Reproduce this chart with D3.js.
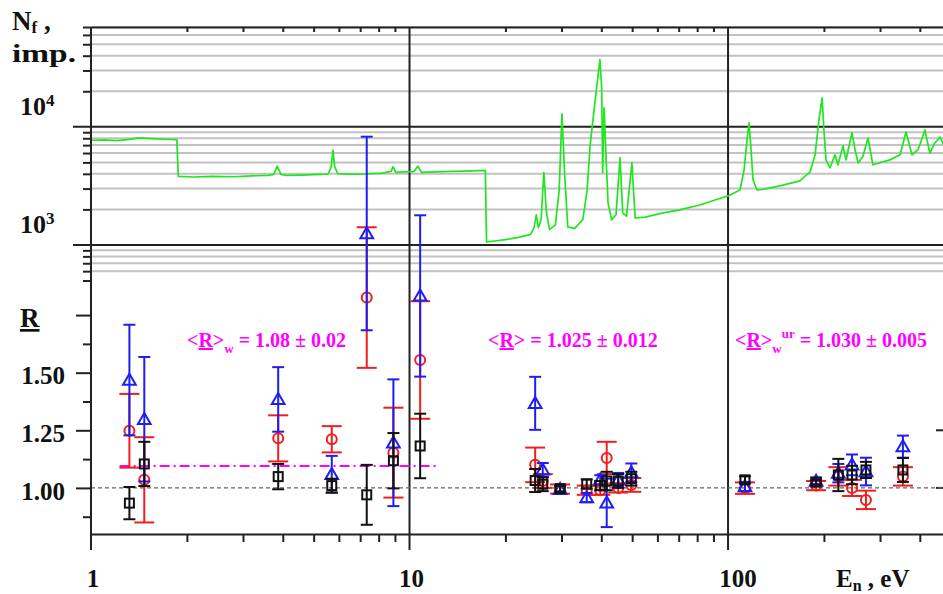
<!DOCTYPE html>
<html>
<head>
<meta charset="utf-8">
<script src="https://cdn.jsdelivr.net/npm/d3@7"></script>
<style>
  body { margin: 0; background: #fff; }
  svg { display: block; font-family: "Liberation Serif", "Times New Roman", serif; font-weight: bold; }
</style>
</head>
<body>
<div id="chart"></div>
<script>
// green trace: fission counts vs neutron energy
const nfEnergy = [
  1.00, 1.10, 1.20, 1.30, 1.42, 1.55, 1.70, 1.86, 1.88, 2.10, 2.40, 2.80, 3.20, 3.60,
  3.75, 3.84, 3.95, 4.10, 4.60, 5.20, 5.55, 5.68, 5.75, 5.82, 5.95, 6.50, 7.30, 8.20,
  8.75, 8.88, 9.05, 9.60, 10.3, 10.63, 10.9, 12.0, 13.5, 15.0, 16.5, 17.3, 17.45, 18.5,
  20.0, 22.0, 24.0, 24.6, 25.0, 25.4, 25.9, 26.4, 26.9, 27.5, 28.7, 29.5, 30.1, 30.7,
  31.4, 33.0, 35.0, 36.1, 36.9, 38.2, 39.6, 40.1, 40.4, 40.8, 41.4, 42.0, 43.1, 44.5,
  45.8, 46.7, 48.0, 49.9, 51.1, 55.0, 61.0, 70.5, 81.5, 91.0, 100, 109, 112.3, 114.7,
  116.4, 118.1, 119.8, 123.3, 130.7, 145.6, 168, 181, 187.6, 193, 197.4, 200, 203, 209,
  216.7, 221.4, 229.5, 234.6, 245, 250.4, 256, 265, 275, 285, 322, 347, 362, 378,
  395, 415, 430, 446, 463, 480
];
const nfCounts = [
  7700, 7750, 7650, 7800, 8050, 7950, 7850, 7800, 3800, 3760, 3800, 3780, 3850, 3880,
  3950, 4650, 3950, 3880, 3900, 3950, 3980, 4600, 6350, 4600, 4020, 3980, 4000, 4050,
  4200, 4600, 4120, 4150, 4170, 4650, 4120, 4160, 4200, 4220, 4260, 4280, 1060, 1080,
  1110, 1160, 1230, 1400, 1800, 1400, 1650, 4100, 1900, 1350, 1480, 2900, 12900, 3900,
  1420, 1380, 1640, 2900, 7000, 16000, 37000, 22000, 4100, 14500, 5600, 2270, 1630, 1800,
  5500, 1870, 1750, 4950, 1690, 1720, 1840, 1980, 2180, 2400, 2600, 2920, 4300, 7700,
  10800, 6400, 3550, 2920, 2980, 3160, 3490, 4160, 5800, 11500, 17600, 9400, 5250, 4500,
  5800, 4770, 6900, 5250, 8900, 6400, 4950, 5600, 8050, 4770, 5250, 5800, 9050, 5800,
  6400, 9400, 6000, 7300, 8200, 6650
];

// ratio points, one entry per resonance group
const groupEnergy = [1.32, 1.47, 3.87, 5.70, 7.34, 8.90, 10.8, 24.8, 26.2, 29.7, 36.0,
  39.7, 41.6, 45.2, 49.7, 113, 189, 222, 245, 271, 354];
const blackR = [0.934, 1.104, 1.049, 1.010, 0.970, 1.118, 1.182, 1.032, 1.016, 0.997, 1.017,
  1.010, 1.030, 1.030, 1.040, 1.035, 1.025, 1.056, 1.056, 1.078, 1.078];
const blackErr = [0.070, 0.096, 0.055, 0.030, 0.130, 0.120, 0.140, 0.050, 0.030, 0.012, 0.020,
  0.020, 0.040, 0.030, 0.030, 0.015, 0.010, 0.070, 0.040, 0.035, 0.052];
const redR = [1.248, 1.035, 1.215, 1.211, 1.826, 1.153, 1.555, 1.100, 1.030, 0.995, 0.990,
  0.990, 1.130, 1.000, 1.013, 0.999, 1.010, 1.050, 1.000, 0.948, 1.050];
const redErr = [0.160, 0.185, 0.100, 0.057, 0.305, 0.195, 0.255, 0.075, 0.030, 0.020, 0.020,
  0.020, 0.070, 0.020, 0.030, 0.025, 0.020, 0.040, 0.035, 0.040, 0.040];
const blueR = [1.468, 1.298, 1.384, 1.059, 2.104, 1.196, 1.833, 1.367, 1.078, 0.994, 0.958,
  1.035, 0.935, 1.035, 1.066, 1.006, 1.030, 1.064, 1.100, 1.071, 1.179];
const blueErr = [0.240, 0.270, 0.140, 0.080, 0.420, 0.275, 0.350, 0.115, 0.030, 0.015, 0.020,
  0.020, 0.105, 0.030, 0.040, 0.020, 0.015, 0.040, 0.045, 0.060, 0.048];

// weighted mean line for the low-energy region
const meanLineE = [1.23, 12.2];
const meanLineR = 1.095;

// ticks
const eMajorTicks = [1, 10, 100];
const eTickLabels = ["1", "10", "100"];
const eMinorTicks = [2, 3, 4, 5, 6, 7, 8, 9, 20, 30, 40, 50, 60, 70, 80, 90, 200, 300, 400];
const rMajorTicks = [1.00, 1.25, 1.50, 1.75];
const rTickLabels = ["1.00", "1.25", "1.50", ""];
const rMinorTicks = [0.875, 1.125, 1.375, 1.625];
const nfMajorTicks = [1e3, 1e4];
const nfTickExp = ["3", "4"];
const nfMinorTicks = [500, 600, 700, 800, 900, 2000, 3000, 4000, 5000, 6000, 7000, 8000, 9000,
  20000, 30000, 40000, 50000, 60000, 70000];

const width = 943, height = 594;
const plotLeft = 91, plotRight = 943, plotTop = 27, plotBottom = 534;

const svg = d3.select("#chart").append("svg")
  .attr("width", width).attr("height", height);

const x = d3.scaleLog().domain([1, 473]).range([plotLeft, plotRight]);
const yN = d3.scaleLog().domain([458, 70000]).range([285, plotTop]);
const yR = d3.scaleLinear().domain([0.8, 3.0]).range([plotBottom, plotTop]);

// gray grid of the counts panel
svg.append("g").selectAll("line")
  .data(nfMinorTicks.filter((v) => v >= 600))
  .join("line")
  .attr("x1", plotLeft).attr("x2", plotRight)
  .attr("y1", (d) => yN(d)).attr("y2", (d) => yN(d))
  .attr("stroke", "#c2c2c2").attr("stroke-width", 2);

svg.append("g").selectAll("line")
  .data(nfMajorTicks)
  .join("line")
  .attr("x1", 73).attr("x2", plotRight)
  .attr("y1", (d) => yN(d)).attr("y2", (d) => yN(d))
  .attr("stroke", "#222").attr("stroke-width", 2);

// minor ticks on the left for the counts scale
const nfAxis = svg.append("g")
  .attr("transform", `translate(${plotLeft},0)`)
  .call(d3.axisLeft(yN).tickValues(nfMinorTicks).tickSize(8).tickFormat(""));
nfAxis.select(".domain").remove();

// R axis
const rAxis = svg.append("g")
  .attr("transform", `translate(${plotLeft},0)`)
  .call(d3.axisLeft(yR).tickValues(rMajorTicks).tickSize(15).tickPadding(11)
    .tickFormat((d, i) => rTickLabels[i]));
rAxis.select(".domain").remove();
rAxis.selectAll("text")
  .attr("font-family", "Liberation Serif, serif").attr("font-size", 25)
  .attr("font-weight", "bold").attr("fill", "#111").attr("dy", "0.45em");

const rMinor = svg.append("g")
  .attr("transform", `translate(${plotLeft},0)`)
  .call(d3.axisLeft(yR).tickValues(rMinorTicks).tickSize(8).tickFormat(""));
rMinor.select(".domain").remove();

svg.append("g").selectAll("line")
  .data(rMajorTicks.slice(0, 2))
  .join("line")
  .attr("x1", plotRight - 7).attr("x2", plotRight)
  .attr("y1", (d) => yR(d)).attr("y2", (d) => yR(d))
  .attr("stroke", "#222").attr("stroke-width", 2);

svg.selectAll(".tick line").attr("stroke", "#222").attr("stroke-width", 2);

// energy axes, bottom and top
const bottomAxis = svg.append("g")
  .attr("transform", `translate(0,${plotBottom})`)
  .call(d3.axisBottom(x).tickValues(eMinorTicks).tickSize(8).tickSizeOuter(0).tickFormat(""));
bottomAxis.select(".domain").attr("stroke", "#222").attr("stroke-width", 2);
bottomAxis.selectAll(".tick line").attr("stroke", "#222").attr("stroke-width", 2);

const topAxis = svg.append("g")
  .attr("transform", `translate(0,${plotTop})`)
  .call(d3.axisBottom(x).tickValues(eMinorTicks).tickSize(5).tickSizeOuter(0).tickFormat(""));
topAxis.select(".domain").attr("stroke", "#222").attr("stroke-width", 2);
topAxis.selectAll(".tick line").attr("stroke", "#222").attr("stroke-width", 2);

// decade lines run through both panels
svg.append("g").selectAll("line")
  .data(eMajorTicks)
  .join("line")
  .attr("x1", (d) => x(d)).attr("x2", (d) => x(d))
  .attr("y1", plotTop).attr("y2", plotBottom + 16)
  .attr("stroke", "#222").attr("stroke-width", 2);

svg.append("g").selectAll("text")
  .data(eMajorTicks)
  .join("text")
  .attr("x", (d) => x(d) + (d === 100 ? 10 : 2))
  .attr("y", 587)
  .attr("text-anchor", "middle")
  .attr("font-size", 25)
  .attr("fill", "#111")
  .text((d, i) => eTickLabels[i]);

// reference line at R = 1
svg.append("line")
  .attr("x1", plotLeft).attr("x2", plotRight)
  .attr("y1", yR(1)).attr("y2", yR(1))
  .attr("stroke", "#666").attr("stroke-width", 1.2)
  .attr("stroke-dasharray", "4,3");

svg.append("line")
  .attr("x1", x(meanLineE[0])).attr("x2", x(meanLineE[1]))
  .attr("y1", yR(meanLineR)).attr("y2", yR(meanLineR))
  .attr("stroke", "#ff00ff").attr("stroke-width", 2)
  .attr("stroke-dasharray", "10,4,2,4");

// counts trace
const line = d3.line()
  .x((d) => x(d[0]))
  .y((d) => yN(d[1]));

svg.append("path")
  .datum(d3.zip(nfEnergy, nfCounts))
  .attr("d", line)
  .attr("fill", "none")
  .attr("stroke", "#1fe61f")
  .attr("stroke-width", 1.7)
  .attr("stroke-linejoin", "round");

// ratio series with error bars
const series = [
  { values: redR, errors: redErr, color: "#f01e1e", cap: 10, marker: "circle" },
  { values: blueR, errors: blueErr, color: "#1e1ef0", cap: 6, marker: "triangle" },
  { values: blackR, errors: blackErr, color: "#111", cap: 6, marker: "square" },
];

series.forEach((s) => {
  const rows = groupEnergy.map((e, i) => ({ e, r: s.values[i], err: s.errors[i] }));
  const g = svg.append("g")
    .attr("stroke", s.color).attr("stroke-width", 2).attr("fill", "none");

  g.selectAll(".bar").data(rows).join("line")
    .attr("class", "bar")
    .attr("x1", (d) => x(d.e)).attr("x2", (d) => x(d.e))
    .attr("y1", (d) => yR(d.r - d.err)).attr("y2", (d) => yR(d.r + d.err));

  [-1, 1].forEach((sign) => {
    g.selectAll(`.cap${sign}`).data(rows).join("line")
      .attr("class", `cap${sign}`)
      .attr("x1", (d) => x(d.e) - s.cap).attr("x2", (d) => x(d.e) + s.cap)
      .attr("y1", (d) => yR(d.r + sign * d.err)).attr("y2", (d) => yR(d.r + sign * d.err));
  });

  if (s.marker === "circle") {
    g.selectAll("circle").data(rows).join("circle")
      .attr("cx", (d) => x(d.e)).attr("cy", (d) => yR(d.r)).attr("r", 5);
  } else if (s.marker === "square") {
    g.selectAll("rect").data(rows).join("rect")
      .attr("x", (d) => x(d.e) - 4.5).attr("y", (d) => yR(d.r) - 4.5)
      .attr("width", 9).attr("height", 9);
  } else {
    const tri = d3.symbol(d3.symbolTriangle, 70);
    g.selectAll("path").data(rows).join("path")
      .attr("d", tri)
      .attr("transform", (d) => `translate(${x(d.e)},${yR(d.r) + 1})`);
  }
});

// left axis line drawn last so it sits on top
svg.append("line")
  .attr("x1", plotLeft).attr("x2", plotLeft)
  .attr("y1", plotTop).attr("y2", plotBottom + 16)
  .attr("stroke", "#222").attr("stroke-width", 2);

// axis titles
const nfTitle = svg.append("text").attr("x", 12).attr("y", 30).attr("font-size", 27).attr("fill", "#111");
nfTitle.append("tspan").text("N");
nfTitle.append("tspan").attr("font-size", 17).attr("dy", 3).text("f");
nfTitle.append("tspan").attr("dy", -3).text(" ,");

svg.append("text").attr("x", 12).attr("y", 62).attr("font-size", 26)
  .attr("fill", "#111").attr("textLength", 64).attr("lengthAdjust", "spacingAndGlyphs")
  .text("imp.");

nfMajorTicks.forEach((v, i) => {
  const t = svg.append("text").attr("x", 20).attr("y", yN(v) - 12)
    .attr("font-size", 26).attr("fill", "#111");
  t.append("tspan").text("10");
  t.append("tspan").attr("font-size", 17).attr("dy", -9).text(nfTickExp[i]);
});

svg.append("text").attr("x", 20).attr("y", 327).attr("font-size", 27)
  .attr("fill", "#111").attr("text-decoration", "underline").text("R");

const eTitle = svg.append("text").attr("x", 836).attr("y", 587).attr("font-size", 25).attr("fill", "#111");
eTitle.append("tspan").text("E");
eTitle.append("tspan").attr("font-size", 16).attr("dy", 4).text("n");
eTitle.append("tspan").attr("dy", -4).text(" , eV");

// mean value annotations
const annotations = [
  { x: 187, sub: "w", sup: "", value: " = 1.08 \u00b1 0.02" },
  { x: 488, sub: "", sup: "", value: " = 1.025 \u00b1 0.012" },
  { x: 735, sub: "w", sup: "ur", value: " = 1.030 \u00b1 0.005" },
];

annotations.forEach((a) => {
  const t = svg.append("text").attr("x", a.x).attr("y", 347)
    .attr("font-size", 20).attr("fill", "#ff00ff");
  t.append("tspan").text("<");
  t.append("tspan").attr("text-decoration", "underline").text("R");
  t.append("tspan").text(">");
  let shift = 0;
  if (a.sub) {
    t.append("tspan").attr("font-size", 13).attr("dy", 6).text(a.sub);
    shift += 6;
  }
  if (a.sup) {
    t.append("tspan").attr("font-size", 13).attr("dy", -15).text(a.sup);
    shift -= 15;
  }
  t.append("tspan").attr("dy", -shift).text(a.value);
});
</script>
</body>
</html>
